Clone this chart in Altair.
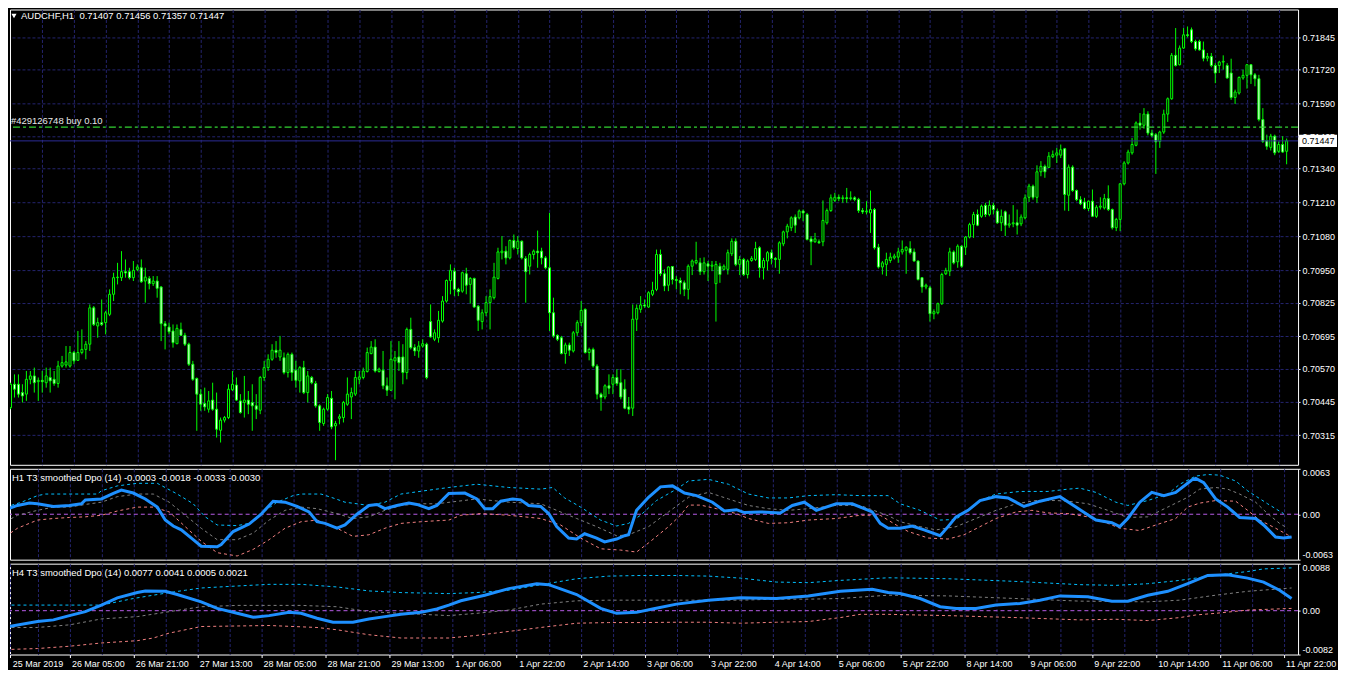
import json
import altair as alt
import pandas as pd

# ---------------- data (prices in points, 1 point = 0.00001) ----------------
PT = 1e-5
open_pts = [
    70421, 70511, 70511, 70479, 70473, 70530, 70543, 70521, 70526, 70517,
    70537, 70530, 70514, 70581, 70585, 70581, 70633, 70603, 70633, 70645,
    70665, 70805, 70735, 70748, 70748, 70780, 70857, 70921, 70921, 70944,
    70944, 70921, 70953, 70959, 70908, 70918, 70898, 70908, 70885, 70744,
    70731, 70716, 70667, 70722, 70699, 70665, 70588, 70533, 70473, 70437,
    70415, 70450, 70415, 70334, 70373, 70383, 70490, 70508, 70447, 70441,
    70450, 70441, 70428, 70411, 70537, 70575, 70607, 70642, 70616, 70613,
    70556, 70626, 70565, 70524, 70575, 70479, 70537, 70514, 70428, 70360,
    70415, 70457, 70351, 70380, 70383, 70434, 70462, 70473, 70530, 70537,
    70560, 70629, 70654, 70560, 70565, 70505, 70488, 70601, 70616, 70616,
    70556, 70722, 70652, 70639, 70658, 70665, 70752, 70684, 70690, 70754,
    70831, 70910, 70946, 70876, 70869, 70936, 70895, 70918, 70811, 70752,
    70786, 70825, 70844, 70918, 71017, 71023, 70997, 71064, 71033, 71061,
    70995, 70965, 71010, 71023, 71023, 70997, 70959, 70786, 70699, 70690,
    70629, 70662, 70639, 70709, 70748, 70799, 70633, 70645, 70581, 70473,
    70462, 70505, 70511, 70537, 70517, 70492, 70424, 70419, 70761, 70799,
    70816, 70808, 70857, 70876, 71010, 70936, 70892, 70964, 70914, 70910,
    70901, 70876, 70965, 70978, 70978, 70944, 70974, 70965, 70898, 70965,
    70953, 70953, 71013, 71061, 70972, 70991, 70933, 70987, 70991, 71036,
    70959, 70985, 71017, 70995, 70991, 71051, 71097, 71113, 71154, 71151,
    71177, 71164, 71070, 71059, 71059, 71059, 71132, 71179, 71218, 71230,
    71225, 71228, 71225, 71228, 71222, 71179, 71174, 71170, 71183, 71038,
    70962, 70972, 70987, 70997, 71000, 71020, 71026, 71033, 71020, 70985,
    70921, 70885, 70882, 70782, 70786, 70821, 70936, 70946, 71020, 70982,
    71042, 71038, 71077, 71125, 71164, 71157, 71199, 71164, 71199, 71177,
    71132, 71174, 71123, 71128, 71132, 71128, 71151, 71230, 71273, 71230,
    71328, 71349, 71345, 71386, 71392, 71392, 71417, 71238, 71346, 71256,
    71221, 71212, 71187, 71215, 71157, 71192, 71189, 71225, 71183, 71113,
    71145, 71282, 71362, 71401, 71430, 71516, 71507, 71550, 71477, 71471,
    71445, 71481, 71550, 71609, 71776, 71740, 71804, 71855, 71874, 71829,
    71829, 71797, 71765, 71772, 71737, 71737, 71750, 71737, 71708, 71614,
    71631, 71689, 71699, 71740, 71701, 71686, 71529, 71448, 71422, 71465,
    71407, 71433, 71407,
]
high_pts = [
    70517, 70549, 70549, 70511, 70562, 70562, 70575, 70537, 70562, 70575,
    70575, 70562, 70601, 70620, 70658, 70658, 70639, 70716, 70722, 70677,
    70818, 70812, 70767, 70837, 70793, 70876, 70940, 70978, 71023, 70991,
    70959, 70985, 70972, 70991, 70959, 70927, 70927, 70927, 70889, 70754,
    70748, 70741, 70741, 70748, 70709, 70671, 70601, 70537, 70492, 70498,
    70485, 70517, 70479, 70383, 70389, 70511, 70562, 70537, 70473, 70543,
    70485, 70511, 70473, 70543, 70601, 70626, 70665, 70677, 70697, 70633,
    70633, 70633, 70601, 70581, 70601, 70562, 70543, 70524, 70434, 70421,
    70473, 70485, 70370, 70396, 70447, 70537, 70498, 70562, 70562, 70575,
    70652, 70677, 70684, 70575, 70639, 70537, 70677, 70639, 70677, 70665,
    70729, 70767, 70665, 70677, 70684, 70671, 70818, 70722, 70793, 70850,
    70914, 70972, 70959, 70882, 70944, 70959, 70923, 70921, 70816, 70799,
    70850, 70876, 70978, 71036, 71081, 71042, 71068, 71087, 71081, 71064,
    71004, 71017, 71029, 71102, 71036, 71004, 71170, 70844, 70703, 70697,
    70671, 70671, 70716, 70757, 70831, 70803, 70652, 70652, 70588, 70479,
    70511, 70549, 70549, 70569, 70569, 70530, 70462, 70818, 70818, 70850,
    70837, 70869, 70905, 71029, 71029, 70953, 70965, 70965, 70927, 70921,
    70910, 70972, 70991, 71059, 70997, 70999, 70985, 70985, 70985, 70978,
    70972, 71029, 71072, 71072, 71004, 70997, 70991, 71004, 71059, 71042,
    70997, 71023, 71029, 71000, 71061, 71102, 71128, 71157, 71164, 71183,
    71183, 71170, 71081, 71093, 71068, 71218, 71187, 71241, 71247, 71241,
    71238, 71266, 71253, 71234, 71228, 71189, 71215, 71256, 71189, 71051,
    70985, 71017, 71017, 71013, 71036, 71064, 71042, 71061, 71033, 70987,
    70923, 70898, 70889, 70799, 70825, 70940, 70959, 71036, 71026, 71049,
    71046, 71081, 71132, 71174, 71183, 71202, 71209, 71218, 71209, 71187,
    71183, 71179, 71164, 71200, 71183, 71164, 71241, 71282, 71279, 71353,
    71369, 71356, 71404, 71410, 71420, 71433, 71420, 71356, 71353, 71260,
    71234, 71228, 71218, 71260, 71200, 71230, 71243, 71276, 71187, 71151,
    71285, 71369, 71413, 71458, 71522, 71554, 71573, 71561, 71490, 71477,
    71486, 71567, 71614, 71785, 71881, 71814, 71881, 71887, 71883, 71836,
    71836, 71829, 71785, 71785, 71746, 71755, 71776, 71746, 71763, 71644,
    71695, 71721, 71740, 71742, 71708, 71701, 71573, 71471, 71474, 71471,
    71445, 71465, 71456,
]
low_pts = [
    70415, 70460, 70460, 70441, 70447, 70511, 70479, 70447, 70479, 70498,
    70479, 70505, 70498, 70575, 70575, 70575, 70588, 70601, 70626, 70607,
    70639, 70735, 70690, 70735, 70703, 70773, 70831, 70895, 70908, 70921,
    70914, 70908, 70946, 70901, 70825, 70876, 70889, 70844, 70677, 70645,
    70703, 70652, 70665, 70697, 70658, 70581, 70524, 70332, 70409, 70409,
    70402, 70409, 70306, 70287, 70364, 70377, 70485, 70447, 70398, 70383,
    70396, 70332, 70377, 70396, 70524, 70562, 70601, 70613, 70601, 70549,
    70537, 70524, 70498, 70479, 70473, 70441, 70511, 70421, 70332, 70351,
    70409, 70338, 70219, 70357, 70364, 70428, 70377, 70466, 70511, 70530,
    70556, 70626, 70556, 70556, 70492, 70466, 70485, 70453, 70562, 70511,
    70530, 70645, 70620, 70613, 70652, 70530, 70690, 70677, 70671, 70748,
    70825, 70857, 70850, 70850, 70863, 70857, 70821, 70805, 70716, 70722,
    70773, 70722, 70837, 70914, 70991, 70972, 70991, 71029, 71010, 70991,
    70825, 70933, 70991, 70959, 70972, 70953, 70716, 70690, 70677, 70626,
    70590, 70620, 70633, 70697, 70735, 70629, 70603, 70575, 70453, 70409,
    70453, 70473, 70473, 70505, 70453, 70415, 70396, 70389, 70716, 70786,
    70805, 70805, 70850, 70869, 70927, 70869, 70869, 70895, 70876, 70857,
    70850, 70837, 70931, 70972, 70931, 70933, 70908, 70946, 70752, 70901,
    70949, 70933, 71004, 70965, 70931, 70927, 70918, 70982, 70985, 70921,
    70914, 70949, 70972, 70959, 70936, 71042, 71072, 71100, 71093, 71145,
    71138, 71064, 70969, 71055, 71051, 71042, 71125, 71174, 71212, 71215,
    71209, 71209, 71218, 71215, 71170, 71166, 71164, 71093, 71029, 70956,
    70933, 70927, 70978, 70991, 70978, 71010, 70936, 71010, 70982, 70910,
    70863, 70876, 70752, 70761, 70780, 70816, 70931, 70927, 70972, 70959,
    70959, 71008, 71072, 71074, 71119, 71151, 71154, 71157, 71164, 71128,
    71100, 71081, 71113, 71115, 71087, 71119, 71145, 71212, 71221, 71209,
    71311, 71305, 71343, 71381, 71362, 71381, 71179, 71177, 71251, 71215,
    71200, 71183, 71177, 71154, 71151, 71183, 71183, 71177, 71106, 71100,
    71100, 71276, 71356, 71394, 71426, 71490, 71494, 71468, 71461, 71320,
    71420, 71474, 71520, 71605, 71733, 71737, 71801, 71845, 71823, 71794,
    71794, 71753, 71753, 71730, 71669, 71708, 71721, 71686, 71605, 71589,
    71625, 71682, 71648, 71666, 71657, 71522, 71439, 71413, 71410, 71392,
    71401, 71401, 71357,
]
close_pts = [
    70511, 70492, 70473, 70466, 70530, 70543, 70517, 70526, 70521, 70543,
    70524, 70514, 70581, 70594, 70597, 70633, 70601, 70633, 70645, 70665,
    70805, 70741, 70748, 70741, 70786, 70857, 70921, 70923, 70944, 70939,
    70921, 70949, 70962, 70905, 70923, 70898, 70908, 70880, 70744, 70735,
    70713, 70671, 70726, 70699, 70665, 70588, 70530, 70473, 70434, 70424,
    70447, 70415, 70338, 70373, 70383, 70492, 70511, 70450, 70402, 70450,
    70434, 70428, 70415, 70537, 70575, 70607, 70642, 70633, 70642, 70556,
    70626, 70556, 70526, 70575, 70479, 70543, 70517, 70428, 70364, 70415,
    70460, 70347, 70360, 70386, 70441, 70473, 70479, 70537, 70539, 70562,
    70633, 70654, 70562, 70569, 70505, 70488, 70607, 70613, 70594, 70556,
    70722, 70652, 70639, 70658, 70667, 70537, 70693, 70709, 70757, 70831,
    70910, 70949, 70876, 70867, 70940, 70892, 70918, 70808, 70757, 70786,
    70825, 70848, 70923, 71020, 71023, 70997, 71064, 71036, 71061, 70997,
    70944, 71010, 71023, 71017, 70997, 70959, 70786, 70697, 70684, 70629,
    70662, 70642, 70709, 70748, 70795, 70633, 70645, 70581, 70473, 70460,
    70505, 70496, 70537, 70514, 70462, 70419, 70415, 70761, 70803, 70816,
    70812, 70863, 70872, 71010, 70936, 70889, 70962, 70914, 70910, 70901,
    70876, 70965, 70985, 70987, 70944, 70978, 70965, 70969, 70972, 70933,
    70965, 71017, 71061, 70972, 70991, 70933, 70985, 70995, 71033, 70959,
    70987, 71017, 70995, 70991, 71055, 71097, 71119, 71151, 71123, 71177,
    71170, 71068, 71059, 71070, 71055, 71141, 71179, 71228, 71230, 71225,
    71228, 71225, 71228, 71222, 71179, 71174, 71177, 71183, 71036, 70962,
    70978, 70991, 71000, 71004, 71020, 71029, 71038, 71017, 70985, 70914,
    70885, 70892, 70782, 70790, 70821, 70933, 70949, 71020, 70978, 71042,
    70965, 71077, 71125, 71164, 71123, 71196, 71164, 71199, 71183, 71132,
    71157, 71123, 71128, 71132, 71123, 71154, 71228, 71273, 71230, 71328,
    71349, 71328, 71388, 71394, 71401, 71413, 71241, 71346, 71256, 71221,
    71205, 71187, 71215, 71157, 71192, 71196, 71225, 71183, 71113, 71145,
    71282, 71362, 71404, 71433, 71516, 71507, 71550, 71477, 71468, 71443,
    71481, 71550, 71609, 71776, 71737, 71804, 71855, 71852, 71829, 71801,
    71797, 71765, 71772, 71737, 71708, 71750, 71753, 71689, 71614, 71635,
    71691, 71699, 71740, 71701, 71686, 71529, 71445, 71426, 71465, 71401,
    71433, 71404, 71447,
]

price_ticks = [0.71845, 0.71720, 0.71590, 0.71465, 0.71340, 0.71210, 0.71080,
               0.70950, 0.70825, 0.70695, 0.70570, 0.70445, 0.70315]
order_price = [0.71500]
order_label = ["#429126748 buy 0.10"]
bid_price = [0.71447]
bid_label = ["0.71447"]
main_title = ["AUDCHF,H1 \u00a00.71407 0.71456 0.71357 0.71447"]

x_label_pos = [1.2, 16, 32, 48, 64, 80, 96, 112, 128, 144, 160, 176, 192,
               208, 224, 240, 256, 272, 288, 304, 320]
x_label_txt = ["25 Mar 2019", "26 Mar 05:00", "26 Mar 21:00", "27 Mar 13:00",
               "28 Mar 05:00", "28 Mar 21:00", "29 Mar 13:00", "1 Apr 06:00",
               "1 Apr 22:00", "2 Apr 14:00", "3 Apr 06:00", "3 Apr 22:00",
               "4 Apr 14:00", "5 Apr 06:00", "5 Apr 22:00", "8 Apr 14:00",
               "9 Apr 06:00", "9 Apr 22:00", "10 Apr 14:00", "11 Apr 06:00",
               "11 Apr 22:00"]

# H1 T3 smoothed DPO (bar index, value)
h1_title = ["H1 T3 smoothed Dpo (14) -0.0003 -0.0018 -0.0033 -0.0030"]
h1_main = [(0,0.00063),(3,0.00122),(6,0.00154),(8,0.00145),(12,0.00108),(16,0.00122),(19,0.00145),(20,0.00199),(24,0.00212),(27,0.00289),(29,0.00334),(32,0.00294),(35,0.00212),(38,0.00099),(40,-0.00081),(42,-0.00163),(44,-0.00217),(47,-0.00353),(49,-0.00443),(53,-0.00452),(54,-0.0042),(57,-0.0024),(61,-0.00136),(64,0.0),(67,0.00181),(70,0.00167),(73,0.00108),(76,0.00032),(78,-0.00104),(80,-0.00127),(83,-0.00194),(85,-0.00149),(88,0.0),(91,0.00122),(93,0.00136),(95,0.00077),(98,0.00122),(101,0.00154),(103,0.00136),(106,0.00077),(108,0.00122),(111,0.00289),(115,0.00294),(118,0.00212),(120,0.00077),(122,0.00077),(124,0.00181),(127,0.00212),(129,0.00199),(131,0.00122),(134,0.00108),(136,0.00009),(138,-0.00172),(141,-0.0033),(143,-0.00344),(145,-0.00271),(148,-0.0033),(150,-0.00384),(153,-0.00344),(155,-0.00298),(156,-0.00285),(158,0.00054),(161,0.00235),(164,0.0038),(167,0.00393),(170,0.00294),(173,0.00258),(177,0.00167),(180,0.00045),(183,0.00063),(185,0.00023),(189,0.00032),(194,0.00018),(197,0.00122),(200,0.00167),(203,0.00054),(208,0.00145),(212,0.00145),(217,0.00032),(219,-0.00127),(221,-0.00194),(224,-0.00194),(227,-0.00163),(230,-0.00217),(234,-0.00298),(236,-0.00172),(238,-0.00036),(241,0.00054),(244,0.0019),(248,0.00244),(251,0.00226),(255,0.00108),(259,0.00181),(264,0.00244),(268,0.00099),(273,-0.00081),(277,-0.00118),(279,-0.00172),(281,-0.00059),(284,0.00167),(287,0.00303),(290,0.00258),(293,0.00303),(297,0.00475),(298,0.00497),(300,0.00438),(303,0.00212),(306,0.00099),(309,-0.00045),(313,-0.00059),(315,-0.00149),(318,-0.00316),(320,-0.0033),(322,-0.00316)]
h1_upper = [(0,0.00099),(4,0.00167),(8,0.00258),(10,0.0028),(23,0.0028),(24,0.00325),(28,0.00393),(33,0.00429),(38,0.00429),(43,0.0028),(47,0.00145),(50,-0.00036),(53,-0.00149),(58,-0.00158),(61,-0.00127),(64,0.00009),(68,0.00167),(72,0.00258),(74,0.0028),(79,0.0028),(82,0.00226),(85,0.00167),(88,0.00145),(91,0.00122),(95,0.00167),(99,0.0028),(102,0.00303),(106,0.00334),(111,0.00371),(118,0.00416),(126,0.00371),(134,0.00348),(137,0.00371),(140,0.00226),(144,0.00099),(149,-0.00081),(153,-0.00163),(156,-0.00127),(159,-0.00014),(163,0.0019),(168,0.00348),(171,0.00461),(176,0.00484),(181,0.00416),(186,0.0028),(191,0.00226),(196,0.00226),(201,0.00258),(208,0.00271),(214,0.00258),(221,0.00258),(224,0.00145),(229,0.00054),(234,-0.00081),(238,-0.00072),(241,0.00054),(244,0.0019),(248,0.0028),(254,0.00316),(261,0.00316),(266,0.00348),(269,0.00362),(273,0.00303),(278,0.00167),(281,0.00122),(286,0.0019),(291,0.0028),(294,0.00416),(298,0.00529),(301,0.00551),(304,0.00542),(308,0.00461),(311,0.00325),(316,0.00145),(320,0.00009)]
h1_mid = [(0,-0.00104),(3,-0.00014),(8,0.00054),(12,0.00099),(16,0.00099),(20,0.00136),(24,0.00167),(28,0.00244),(33,0.0028),(37,0.0028),(41,0.00167),(45,-0.00014),(49,-0.00194),(53,-0.00353),(58,-0.00353),(62,-0.00262),(66,-0.00081),(70,0.00054),(74,0.00099),(78,0.00077),(83,0.00009),(87,-0.00059),(91,-0.00036),(95,0.00054),(99,0.00122),(104,0.00145),(108,0.00145),(118,0.00212),(126,0.00167),(134,0.00145),(138,0.00054),(143,-0.00059),(148,-0.00172),(153,-0.00298),(156,-0.00285),(161,-0.00172),(166,0.00032),(171,0.00235),(176,0.00303),(181,0.00212),(186,0.00122),(191,0.00077),(196,0.00054),(201,0.00077),(208,0.00122),(214,0.00122),(221,-0.0002),(224,-0.00104),(229,-0.00172),(233,-0.00217),(238,-0.00172),(241,-0.00104),(244,-0.00036),(248,0.00054),(253,0.00145),(258,0.0019),(263,0.0019),(266,0.00181),(271,0.00145),(276,0.00054),(281,-0.00045),(286,-0.00036),(291,0.00099),(296,0.00235),(299,0.00348),(303,0.00371),(306,0.00348),(309,0.0028),(313,0.00167),(316,0.00009),(319,-0.00127),(321,-0.00194)]
h1_lower = [(0,-0.00307),(3,-0.00194),(8,-0.00081),(12,-0.00059),(16,-0.00045),(20,-0.00036),(24,-0.00014),(28,0.00045),(33,0.00099),(37,0.00099),(41,0.00032),(45,-0.00172),(49,-0.00375),(53,-0.00533),(58,-0.00579),(62,-0.00488),(66,-0.00353),(70,-0.00194),(74,-0.00104),(78,-0.00081),(83,-0.00194),(87,-0.00307),(91,-0.00285),(95,-0.00194),(99,-0.00127),(104,-0.00104),(108,-0.0009),(111,-0.00081),(114,-0.00014),(119,0.00009),(126,-0.00014),(134,-0.00059),(139,-0.00149),(144,-0.0033),(149,-0.00479),(154,-0.00497),(158,-0.00524),(161,-0.00398),(166,-0.00172),(169,-0.00014),(171,0.00127),(174,0.00127),(178,0.00077),(183,0.00009),(186,-0.00059),(191,-0.00127),(196,-0.00118),(201,-0.00081),(208,-0.00059),(214,-0.00014),(219,-0.00014),(223,-0.00149),(226,-0.00239),(231,-0.0033),(236,-0.00344),(240,-0.00285),(244,-0.00172),(248,-0.00059),(253,0.00032),(257,0.00054),(261,0.00018),(266,0.00009),(271,-0.00036),(276,-0.00127),(279,-0.00194),(284,-0.00226),(288,-0.00149),(293,-0.00059),(296,0.00099),(299,0.00154),(303,0.0019),(308,0.00181),(311,0.00054),(314,-0.00081),(318,-0.00194),(321,-0.00285),(322,-0.00316)]

# H4 T3 smoothed DPO (bar index, value)
h4_title = ["H4 T3 smoothed Dpo (14) 0.0077 0.0041 0.0005 0.0021"]
h4_main = [(0,-0.00308),(8,-0.00203),(12,-0.00172),(16,-0.00092),(20,-0.00018),(24,0.00105),(28,0.0024),(33,0.00339),(35,0.0037),(40,0.00363),(43,0.00302),(49,0.00166),(53,0.00043),(58,-0.00049),(62,-0.00123),(66,-0.00092),(71,-0.00031),(74,-0.00049),(78,-0.00142),(82,-0.00216),(87,-0.00216),(91,-0.00154),(95,-0.00111),(99,-0.00068),(104,-0.00031),(108,0.00031),(111,0.00105),(114,0.00185),(120,0.0029),(126,0.00413),(133,0.00505),(136,0.00487),(143,0.00302),(149,0.00043),(153,-0.00049),(158,-0.00031),(162,0.00031),(168,0.00123),(176,0.00197),(184,0.0024),(193,0.00228),(201,0.00277),(209,0.00363),(217,0.004),(221,0.00339),(224,0.0032),(229,0.00228),(234,0.00074),(238,0.00043),(243,0.00043),(248,0.00105),(254,0.00136),(259,0.00197),(264,0.00277),(271,0.00259),(277,0.00179),(281,0.00179),(286,0.0029),(291,0.00363),(296,0.00505),(301,0.00659),(306,0.00671),(311,0.0061),(315,0.00536),(319,0.00382),(322,0.00228)]
h4_upper = [(0,0.00105),(8,0.00105),(16,0.00105),(24,0.00105),(28,0.00166),(32,0.00228),(37,0.0029),(41,0.00339),(45,0.00382),(49,0.00425),(58,0.00462),(66,0.00493),(74,0.00493),(83,0.00444),(91,0.0037),(99,0.00339),(111,0.0032),(118,0.00339),(126,0.00382),(134,0.00487),(143,0.00598),(151,0.00647),(159,0.00659),(168,0.00659),(176,0.00647),(184,0.0061),(193,0.00536),(201,0.00524),(209,0.00567),(221,0.00616),(236,0.00598),(253,0.00548),(269,0.00487),(278,0.00474),(286,0.00505),(294,0.00567),(298,0.0061),(306,0.0069),(311,0.00733),(315,0.00782),(322,0.00801)]
h4_mid = [(0,-0.00314),(8,-0.00314),(16,-0.00265),(24,-0.00154),(33,-0.00111),(41,-0.00018),(49,0.00074),(58,0.00099),(66,0.00099),(74,0.00099),(83,0.00074),(91,-0.00018),(99,-0.00049),(111,-0.00092),(118,-0.00049),(126,0.00012),(134,0.00123),(143,0.00185),(151,0.00197),(159,0.00197),(168,0.00197),(176,0.00197),(184,0.00197),(193,0.00216),(201,0.00216),(209,0.00228),(221,0.0029),(236,0.00277),(253,0.00228),(269,0.00179),(286,0.00166),(294,0.00197),(303,0.0029),(311,0.00363),(322,0.00425)]
h4_lower = [(0,-0.00727),(8,-0.00708),(16,-0.00665),(24,-0.00604),(33,-0.00561),(37,-0.00511),(41,-0.00419),(49,-0.00296),(66,-0.00277),(78,-0.00314),(83,-0.00357),(91,-0.0045),(99,-0.00511),(111,-0.00511),(118,-0.00462),(126,-0.00388),(134,-0.00314),(143,-0.00234),(151,-0.00222),(159,-0.00222),(168,-0.00216),(176,-0.00216),(184,-0.00234),(193,-0.00216),(201,-0.00203),(209,-0.00129),(214,-0.00068),(221,-0.00068),(236,-0.00092),(253,-0.00129),(269,-0.00172),(278,-0.0016),(286,-0.00185),(294,-0.00129),(298,-0.0008),(303,-0.00049),(311,0.00012),(322,0.00043)]

# ---------------- styling ----------------
W = 1290
H_MAIN, H_SUB = 456, 91
GRID = "#24246e"
LIME = "#00ff00"
FONT = "Liberation Sans"

candles = pd.DataFrame({
    "bar": list(range(len(close_pts))),
    "open": [v * PT for v in open_pts],
    "high": [v * PT for v in high_pts],
    "low": [v * PT for v in low_pts],
    "close": [v * PT for v in close_pts],
})

xs = alt.Scale(domain=[1.125, 1.125 + W / 4.0], nice=False, zero=False)
grid_vals = list(range(8, 321, 8))
x_plain = alt.Axis(values=grid_vals, labels=False, ticks=False, domain=False,
                   grid=True, gridColor=GRID, gridDash=[3, 2], title=None,
                   labelFlush=False)
pos_js = json.dumps(x_label_pos)
txt_js = json.dumps(x_label_txt)
x_bottom = alt.Axis(
    values=sorted(set(x_label_pos + grid_vals)),
    labelExpr=f"indexof({pos_js}, datum.value) >= 0 ? {txt_js}[indexof({pos_js}, datum.value)] : ''",
    labelAlign="left", labelBaseline="top", labelPadding=2, labelOffset=2,
    labelColor="white", labelFont=FONT, labelFontSize=9,
    labelOverlap=False, labelBound=False, labelFlush=False,
    ticks=True, tickSize=3,
    tickColor={"condition": {"test": f"indexof({pos_js}, datum.value) >= 0", "value": "white"},
               "value": "transparent"},
    domain=False, grid=True, gridColor=GRID, gridDash=[3, 2], title=None)

ys_main = alt.Scale(domain=[0.702012, 0.719523], nice=False, zero=False)
y_main_axis = alt.Axis(orient="right", values=price_ticks, format=".5f",
                       labelColor="white", labelFont=FONT, labelFontSize=9,
                       labelPadding=2, tickColor="white", tickSize=2,
                       domain=False, grid=True, gridColor=GRID, gridDash=[3, 2],
                       title=None, labelOverlap=False, labelBound=False)


def xenc(axis):
    return alt.X("bar:Q", scale=xs, axis=axis, title=None)


def ymain(field):
    return alt.Y(field, type="quantitative", scale=ys_main, axis=y_main_axis, title=None)


wicks = alt.Chart(candles).mark_rule(color=LIME, strokeWidth=1, clip=True).encode(
    x=xenc(x_plain), y=ymain("low"), y2="high:Q")
bodies = alt.Chart(candles).mark_bar(width=2, stroke=LIME, strokeWidth=1, clip=True).encode(
    x=xenc(x_plain), y=ymain("open"), y2="close:Q",
    fill=alt.condition("datum.close >= datum.open", alt.value("#000000"), alt.value("#ffffff")))

order_df = pd.DataFrame({"price": order_price, "label": order_label})
bid_df = pd.DataFrame({"price": bid_price, "label": bid_label})
title_df = pd.DataFrame({"t": main_title})

order_rule = alt.Chart(order_df).mark_rule(color="#32d232", strokeWidth=1.3, strokeDash=[7, 3, 3, 3]).encode(
    y=ymain("price"))
order_text = alt.Chart(order_df).mark_text(align="left", baseline="bottom", dy=-1, color="#e8e8e8",
                                           font=FONT, fontSize=9.5).encode(
    x=alt.value(1), y=ymain("price"), text="label:N")
bid_rule = alt.Chart(bid_df).mark_rule(color="#2c2c96", strokeWidth=1).encode(y=ymain("price"))
bid_box = alt.Chart(bid_df).mark_point(shape="M-1,-0.32L1,-0.32L1,0.32L-1,0.32Z", size=38 * 38,
                                       filled=True, color="#ffffff", opacity=1).encode(
    x=alt.value(W + 20), y=ymain("price"))
bid_text = alt.Chart(bid_df).mark_text(align="left", baseline="middle", color="#000000",
                                       font=FONT, fontSize=9).encode(
    x=alt.value(W + 4), y=ymain("price"), text="label:N")
tri = alt.Chart(title_df).mark_point(shape="triangle-down", filled=True, color="#ffffff",
                                     size=26, opacity=1).encode(x=alt.value(4), y=alt.value(6.5))
title_text = alt.Chart(title_df).mark_text(align="left", baseline="top", color="#ffffff",
                                           font=FONT, fontSize=9.5).encode(
    x=alt.value(11), y=alt.value(2), text="t:N")

main = alt.layer(wicks, bodies, order_rule, bid_rule, order_text, bid_box, bid_text,
                 tri, title_text).properties(width=W, height=H_MAIN)


def sub_panel(title, main_pts, up_pts, mid_pts, lo_pts, lo, hi, xaxis):
    ys = alt.Scale(domain=[lo, hi], nice=False, zero=False)
    yax = alt.Axis(orient="right", values=[lo, 0, hi],
                   labelExpr="datum.value == 0 ? '0.00' : (datum.value < 0 ? '-' + format(-datum.value, '.4f') : format(datum.value, '.4f'))",
                   labelFlush=True, labelColor="white", labelFont=FONT, labelFontSize=9,
                   labelPadding=2, tickColor="white", tickSize=2, domain=False, grid=False,
                   title=None, labelOverlap=False, labelBound=False)

    def line(pts, **kw):
        df = pd.DataFrame(pts, columns=["bar", "v"])
        return alt.Chart(df).mark_line(clip=True, **kw).encode(
            x=xenc(xaxis), y=alt.Y("v:Q", scale=ys, axis=yax, title=None))

    zero = alt.Chart(pd.DataFrame({"v": [0.0]})).mark_rule(
        color="#b85ce8", strokeWidth=1, strokeDash=[4, 3]).encode(
        y=alt.Y("v:Q", scale=ys, axis=yax, title=None))
    ttl = alt.Chart(pd.DataFrame({"t": title})).mark_text(
        align="left", baseline="top", color="#ffffff", font=FONT, fontSize=9.5).encode(
        x=alt.value(2), y=alt.value(4), text="t:N")
    return alt.layer(
        zero,
        line(lo_pts, color="#f08080", strokeWidth=1, strokeDash=[3, 3]),
        line(mid_pts, color="#808080", strokeWidth=1, strokeDash=[3, 3]),
        line(up_pts, color="#00bfff", strokeWidth=1, strokeDash=[3, 3]),
        line(main_pts, color="#1e90ff", strokeWidth=3),
        ttl,
    ).properties(width=W, height=H_SUB)


p1 = sub_panel(h1_title, h1_main, h1_upper, h1_mid, h1_lower, -0.0063, 0.0063, x_plain)
p2 = sub_panel(h4_title, h4_main, h4_upper, h4_mid, h4_lower, -0.0082, 0.0088, x_bottom)

chart = alt.vconcat(main, p1, p2, spacing=2).properties(padding=0).configure(
    background="#000000", font=FONT).configure_view(stroke="#ffffff", strokeWidth=1)

chart.save("out.html", embed_options={"renderer": "svg", "actions": False})
